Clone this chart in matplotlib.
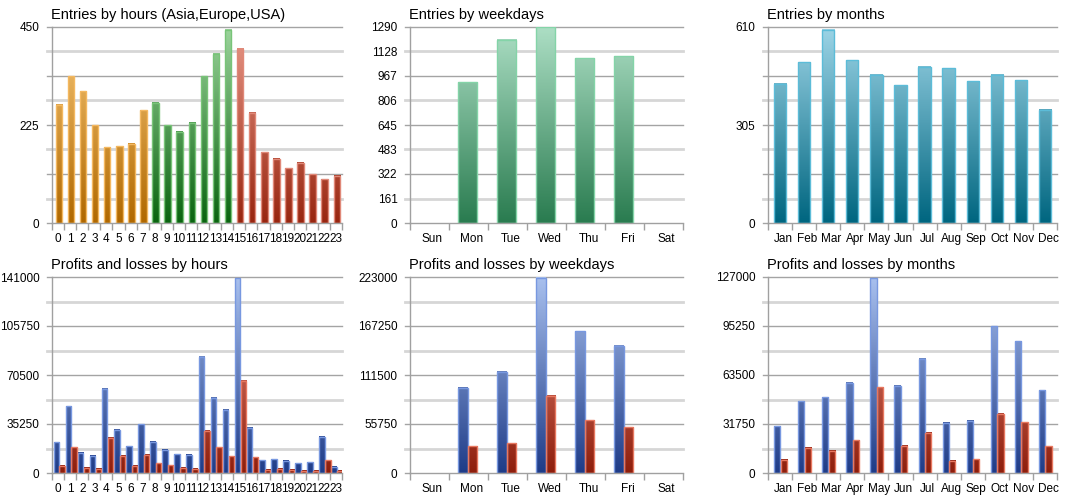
import numpy as np
import matplotlib
matplotlib.use("Agg")
import matplotlib.pyplot as plt
from matplotlib.colors import LinearSegmentedColormap
from matplotlib.transforms import ScaledTranslation

plt.rcParams['font.family'] = ['Liberation Sans', 'DejaVu Sans']

# ---- data ----
hours = [str(h) for h in range(24)]
weekdays = ['Sun', 'Mon', 'Tue', 'Wed', 'Thu', 'Fri', 'Sat']
months = ['Jan', 'Feb', 'Mar', 'Apr', 'May', 'Jun', 'Jul', 'Aug', 'Sep', 'Oct', 'Nov', 'Dec']

entries_hours = [271, 337, 302, 225, 174, 176, 182, 259, 276, 224, 210, 230,
                 337, 389, 444, 400, 253, 162, 148, 126, 138, 112, 101, 109]
hour_group = ['asia'] * 8 + ['europe'] * 7 + ['usa'] * 9

entries_weekdays = [0, 926, 1207, 1287, 1084, 1099, 0]
entries_months = [433, 501, 602, 507, 461, 428, 487, 482, 441, 461, 445, 353]

profit_hours = [22060, 47960, 14390, 12470, 60670, 31170, 19180, 35010, 22540, 16550, 13430, 12950,
                83450, 54190, 45560, 140000, 32610, 9350, 10070, 8870, 7190, 7670, 25900, 4320]
loss_hours = [5280, 18700, 3600, 2880, 25180, 12470, 5040, 12950, 6950, 5750, 3600, 3120,
              30450, 18460, 11990, 66420, 11510, 2400, 3120, 2160, 1680, 1440, 9350, 1440]

profit_weekdays = [0, 97090, 115290, 222000, 161560, 144870, 0]
loss_weekdays = [0, 30340, 34130, 87990, 60300, 51960, 0]

profit_months = [30450, 46650, 49240, 58530, 126140, 56590, 73870, 32610, 33910, 95030, 85530, 53780]
loss_months = [8640, 16200, 14470, 21380, 55720, 17710, 26130, 7990, 9070, 38230, 32830, 17490]

# ---- colour ramps (bottom -> top of axis) ----
def ramp(bottom, top):
    return LinearSegmentedColormap.from_list('r', [bottom, top])

ramps = {
    'asia': (ramp('#b06800', '#f8c878'), '#f4b860'),
    'europe': (ramp('#0a6410', '#9cd49c'), '#78c478'),
    'usa': (ramp('#982610', '#e89888'), '#e08878'),
    'week': (ramp('#2a7c50', '#acdec4'), '#84d4a8'),
    'month': (ramp('#006680', '#9cd4e6'), '#5cbcd8'),
    'profit': (ramp('#1f3c88', '#a8c0ee'), '#7898e0'),
    'loss': (ramp('#8e1e0c', '#f09484'), '#e87860'),
}


def gradient_bars(ax, x, heights, width, ymax, keys):
    bars = ax.bar(x, heights, width=width, facecolor='none', linewidth=1.0, zorder=4)
    for b, key in zip(bars, keys):
        cmap, edge = ramps[key]
        b.set_edgecolor(edge)
        h = b.get_height()
        if h <= 0:
            b.set_visible(False)
            continue
        x0 = b.get_x()
        grad = np.linspace(0, h / ymax, 64).reshape(-1, 1)
        ax.imshow(grad, cmap=cmap, vmin=0, vmax=1, origin='lower', aspect='auto',
                  extent=(x0, x0 + b.get_width(), 0, h), zorder=3, interpolation='bilinear')
    return bars


def style_axes(ax, title, cats, ymax, ylabels, shift_labels=False):
    n = len(cats)
    ax.set_xlim(-0.5, n - 0.5)
    ax.set_ylim(0, ymax)
    for sp in ('top', 'right'):
        ax.spines[sp].set_visible(False)
    for sp in ('left', 'bottom'):
        ax.spines[sp].set_color('#a0a0a0')
        ax.spines[sp].set_linewidth(1)
        ax.spines[sp].set_zorder(5)
    # horizontal grid: alternating dark thin / light thick
    ext = -5 / (ax.get_position().width * 1075)
    for k in range(1, 9):
        y = ymax * k / 8
        if k % 2 == 0:
            ax.axhline(y, xmin=ext, xmax=1, color='#a4a4a4', lw=1, zorder=1, clip_on=False)
        else:
            ax.axhline(y, xmin=ext, xmax=1, color='#d6d6d6', lw=2, zorder=1, clip_on=False)
    ax.axhline(0, xmin=ext, xmax=0, color='#a4a4a4', lw=1, zorder=1, clip_on=False)
    ax.set_yticks([v for v, _ in ylabels])
    ax.set_yticklabels([s for _, s in ylabels])
    ax.tick_params(axis='y', length=0, pad=9, labelsize=8.5)
    ax.set_xticks(range(n))
    ax.set_xticklabels(cats)
    ax.set_xticks(np.arange(-0.5, n, 1.0), minor=True)
    ax.tick_params(axis='x', which='major', length=0, pad=7, labelsize=8.5)
    ax.tick_params(axis='x', which='minor', length=5, width=1, color='#a0a0a0')
    if shift_labels:
        off = ScaledTranslation(3 / 100, 0, ax.figure.dpi_scale_trans)
        for lab in ax.get_xticklabels():
            lab.set_transform(lab.get_transform() + off)
    ax.set_title(title, loc='left', fontsize=10.5, pad=6, x=-0.005)


fig = plt.figure(figsize=(10.75, 5), dpi=100)
W, H = 1075, 500
cols = [(52, 290), (410, 273), (768, 289)]
rows = [(27, 196), (277, 196)]
axs = [[fig.add_axes([l / W, 1 - (t + h) / H, w / W, h / H]) for (l, w) in cols] for (t, h) in rows]

# entries by hours
ymax = 450
ax = axs[0][0]
gradient_bars(ax, np.arange(24) + 0.07, entries_hours, 0.54, ymax, hour_group)
style_axes(ax, 'Entries by hours (Asia,Europe,USA)', hours, ymax,
           [(0, '0'), (225, '225'), (450, '450')])

# entries by weekdays
ymax = 1290
ax = axs[0][1]
gradient_bars(ax, np.arange(7) - 0.02, entries_weekdays, 0.5, ymax, ['week'] * 7)
wl = ['0', '161', '322', '483', '645', '806', '967', '1128', '1290']
style_axes(ax, 'Entries by weekdays', weekdays, ymax,
           [(ymax * k / 8, s) for k, s in enumerate(wl)], shift_labels=True)

# entries by months
ymax = 610
ax = axs[0][2]
gradient_bars(ax, np.arange(12), entries_months, 0.51, ymax, ['month'] * 12)
style_axes(ax, 'Entries by months', months, ymax,
           [(0, '0'), (305, '305'), (610, '610')], shift_labels=True)

# profits and losses by hours
ymax = 141000
ax = axs[1][0]
gradient_bars(ax, np.arange(24) - 0.14, profit_hours, 0.46, ymax, ['profit'] * 24)
gradient_bars(ax, np.arange(24) + 0.33, loss_hours, 0.44, ymax, ['loss'] * 24)
style_axes(ax, 'Profits and losses by hours', hours, ymax,
           [(0, '0'), (35250, '35250'), (70500, '70500'), (105750, '105750'), (141000, '141000')])

# profits and losses by weekdays
ymax = 223000
ax = axs[1][1]
gradient_bars(ax, np.arange(7) - 0.145, profit_weekdays, 0.25, ymax, ['profit'] * 7)
gradient_bars(ax, np.arange(7) + 0.11, loss_weekdays, 0.24, ymax, ['loss'] * 7)
style_axes(ax, 'Profits and losses by weekdays', weekdays, ymax,
           [(0, '0'), (55750, '55750'), (111500, '111500'), (167250, '167250'), (223000, '223000')],
           shift_labels=True)

# profits and losses by months
ymax = 127000
ax = axs[1][2]
gradient_bars(ax, np.arange(12) - 0.12, profit_months, 0.26, ymax, ['profit'] * 12)
gradient_bars(ax, np.arange(12) + 0.15, loss_months, 0.26, ymax, ['loss'] * 12)
style_axes(ax, 'Profits and losses by months', months, ymax,
           [(0, '0'), (31750, '31750'), (63500, '63500'), (95250, '95250'), (127000, '127000')],
           shift_labels=True)

fig.savefig('out.png', dpi=100)
